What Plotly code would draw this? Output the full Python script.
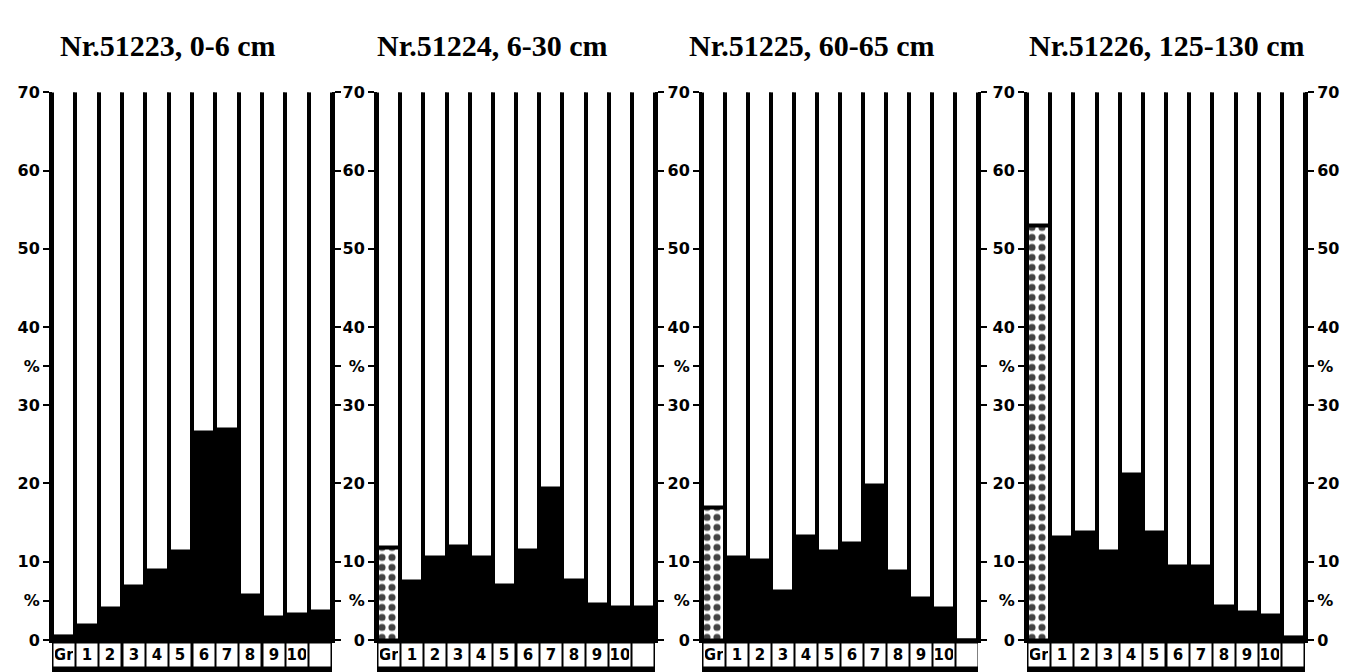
import plotly.graph_objects as go
import numpy as np

# ---------------- data ----------------
categories = ["Gr", "1", "2", "3", "4", "5", "6", "7", "8", "9", "10", ""]
titles = ["Nr.51223, 0-6 cm", "Nr.51224, 6-30 cm", "Nr.51225, 60-65 cm", "Nr.51226, 125-130 cm"]
sample_51223 = [0.5, 1.8, 4.0, 6.9, 8.9, 11.3, 26.5, 26.9, 5.7, 2.9, 3.3, 3.7]
sample_51224 = [11.8, 7.5, 10.5, 12.0, 10.5, 7.0, 11.4, 19.4, 7.6, 4.6, 4.1, 4.2]
sample_51225 = [16.9, 10.5, 10.2, 6.2, 13.2, 11.3, 12.3, 19.7, 8.7, 5.3, 4.0, 0.0]
sample_51226 = [53.0, 13.1, 13.8, 11.3, 21.2, 13.8, 9.4, 9.4, 4.3, 3.5, 3.1, 0.3]
tick_vals = [0, 5, 10, 20, 30, 35, 40, 50, 60, 70]
tick_text = ["0", "%", "10", "20", "30", "%", "40", "50", "60", "70"]
scale_max = 70

panels = [sample_51223, sample_51224, sample_51225, sample_51226]

# ---------------- layout geometry ----------------
W, H = 1348, 672
# vertical placement (pixel targets converted to paper fractions)
TOP_OFF, EFF_H = 8.5, 653.6


def py(y_px):
    return 1 - (y_px - TOP_OFF) / EFF_H


x_px = [(52, 332), (377, 655), (702, 978), (1027, 1305)]
title_cx = [168, 492, 812, 1167]
ydom = [py(640), py(92)]

x_idx = np.arange(len(categories))
fig = go.Figure()

tick_font = dict(family="DejaVu Sans", size=16, color="black")
bold_ticks = ["<b>" + t + "</b>" for t in tick_text]
layout = dict(
    width=W, height=H,
    margin=dict(l=0, r=0, t=0, b=0),
    paper_bgcolor="white", plot_bgcolor="white",
    barmode="overlay", bargap=0, showlegend=False,
    shapes=[], annotations=[],
)

for p, vals in enumerate(panels):
    n = "" if p == 0 else str(p + 1)
    xa, ya = "x" + n, "y" + n
    # white column frames up to the top of the scale
    fig.add_trace(go.Bar(
        x=x_idx, y=[scale_max + 1] * len(categories), xaxis=xa, yaxis=ya,
        marker=dict(color="white", line=dict(color="black", width=4)),
        width=1, hoverinfo="skip"))
    # values
    colors = ["white" if c == "Gr" else "black" for c in categories]
    shapes = ["." if c == "Gr" else "" for c in categories]
    fig.add_trace(go.Bar(
        x=x_idx, y=vals, xaxis=xa, yaxis=ya,
        marker=dict(color=colors, line=dict(color="black", width=4),
                    pattern=dict(shape=shapes, fgcolor="black", bgcolor="white",
                                 fgopacity=1, size=10, solidity=0.4)),
        width=1))
    x0, x1 = x_px[p]
    layout["xaxis" + n] = dict(
        domain=[x0 / W, x1 / W], anchor=ya, range=[-0.5, len(categories) - 0.5],
        showline=True, linewidth=3, linecolor="black", mirror=False,
        showticklabels=False, ticks="", showgrid=False, zeroline=False, fixedrange=True)
    layout["yaxis" + n] = dict(
        domain=ydom, anchor=xa, range=[0, scale_max],
        tickvals=tick_vals, ticktext=bold_ticks, tickfont=tick_font,
        ticks="outside", ticklen=6, tickwidth=2, tickcolor="black",
        showline=True, linewidth=3, linecolor="black", mirror="ticks",
        showgrid=False, zeroline=False, fixedrange=True)
    # label band
    layout["shapes"].append(dict(
        type="rect", xref=xa + " domain", yref="paper", x0=0, x1=1,
        y0=-0.05, y1=py(643), fillcolor="black", line=dict(width=0), layer="above"))
    for i, c in enumerate(categories):
        layout["annotations"].append(dict(
            x=i, xref=xa, y=py(655), yref="paper", yanchor="middle", xanchor="center",
            text="<b>" + c + "</b>" if c else " ",
            showarrow=False, bgcolor="white", width=18, height=20,
            font=dict(family="DejaVu Sans", size=15, color="black")))
    layout["annotations"].append(dict(
        x=title_cx[p] / W, y=py(45), xref="paper", yref="paper",
        xanchor="center", yanchor="middle",
        text="<b>" + titles[p] + "</b>", showarrow=False,
        font=dict(family="Liberation Serif", size=30, color="black")))

# right-hand scale of the last panel
layout["yaxis5"] = dict(
    domain=ydom, anchor="x4", overlaying="y4", side="right", range=[0, scale_max],
    tickvals=tick_vals, ticktext=bold_ticks, tickfont=tick_font,
    ticks="outside", ticklen=6, tickwidth=2, tickcolor="black",
    showline=True, linewidth=3, linecolor="black",
    showgrid=False, zeroline=False, fixedrange=True)
fig.add_trace(go.Scatter(x=[None], y=[None], xaxis="x4", yaxis="y5", hoverinfo="skip"))

fig.update_layout(**layout)
fig.write_html("out.html")
